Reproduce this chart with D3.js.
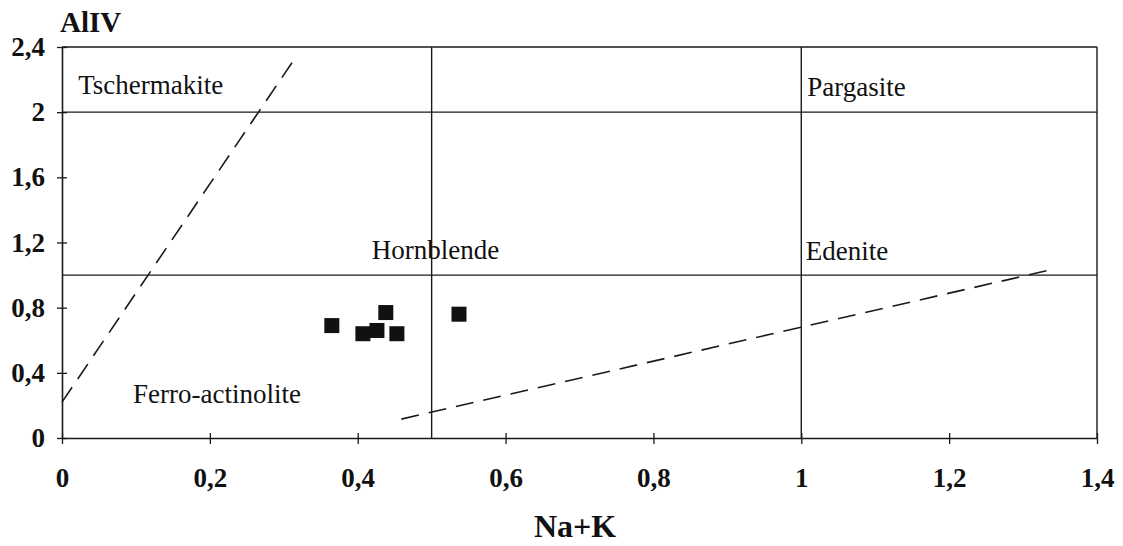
<!DOCTYPE html>
<html>
<head>
<meta charset="utf-8">
<script src="https://cdn.jsdelivr.net/npm/d3@7/dist/d3.min.js"></script>
<style>
  html, body { margin: 0; padding: 0; background: #fff; }
  svg { display: block; }
</style>
</head>
<body>
<svg id="chart" width="1123" height="546"></svg>
<script>
// Amphibole analyses: Na+K (A-site) versus tetrahedral Al (AlIV)
const naK  = [0.365, 0.407, 0.426, 0.438, 0.453, 0.537];
const alIV = [0.69,  0.64,  0.66,  0.77,  0.64,  0.76];

// Axis ticks
const xTicks = [0, 0.2, 0.4, 0.6, 0.8, 1, 1.2, 1.4];
const yTicks = [0, 0.4, 0.8, 1.2, 1.6, 2, 2.4];

// Classification field boundaries
const hBounds = [1, 2, 2.4];
const vBounds = [0.5, 1, 1.4];

// Dashed reference lines, as [Na+K, AlIV] end points
const dashA = [[0, 0.22], [0.315, 2.33]];
const dashB = [[0.459, 0.116], [1.34, 1.035]];

// Field names and their anchor points [Na+K, AlIV]
const fieldNames  = ["Tschermakite", "Pargasite", "Hornblende", "Edenite", "Ferro-actinolite"];
const fieldAnchor = [[0.022, 2.11], [1.008, 2.10], [0.419, 1.10], [1.006, 1.09], [0.096, 0.215]];

const FONT = "Liberation Serif";
const svg = d3.select("#chart").style("font-family", FONT);
const x = d3.scaleLinear().domain([0, 1.4]).range([62, 1097]);
const y = d3.scaleLinear().domain([0, 2.4]).range([438, 47]);
const ink = "#1a1a1a";
const fmt = d => String(d).replace(".", ",");

// Field boundaries
svg.append("g").selectAll("line").data(hBounds).join("line")
  .attr("x1", x(0)).attr("x2", x(1.4))
  .attr("y1", d => y(d)).attr("y2", d => y(d))
  .attr("stroke", ink).attr("stroke-width", 1.4);
svg.append("g").selectAll("line").data(vBounds).join("line")
  .attr("x1", d => x(d)).attr("x2", d => x(d))
  .attr("y1", y(0)).attr("y2", y(2.4))
  .attr("stroke", ink).attr("stroke-width", 1.4);

// Axes
const xAxis = svg.append("g").attr("transform", `translate(0,${y(0)})`)
  .call(d3.axisBottom(x).tickValues(xTicks).tickFormat(fmt).tickSize(0).tickPadding(40));
const yAxis = svg.append("g").attr("transform", `translate(${x(0)},0)`)
  .call(d3.axisLeft(y).tickValues(yTicks).tickFormat(fmt).tickSize(0).tickPadding(17));
[xAxis, yAxis].forEach(g => {
  g.attr("font-family", null).attr("font-size", null);
  g.select(".domain").attr("stroke", ink).attr("stroke-width", 1.6);
  g.selectAll("text")
    .style("font-family", FONT).style("font-size", "27px").style("font-weight", "bold")
    .attr("fill", "#111");
});
xAxis.selectAll(".tick text").attr("dy", "0.32em");
// short ticks crossing each axis
xAxis.selectAll(".tick").append("line").attr("y1", -5).attr("y2", 6).attr("stroke", ink).attr("stroke-width", 1.3);
yAxis.selectAll(".tick").append("line").attr("x1", -5).attr("x2", 5).attr("stroke", ink).attr("stroke-width", 1.3);

// Dashed reference lines
const line = d3.line().x(d => x(d[0])).y(d => y(d[1]));
[dashA, dashB].forEach(seg => {
  svg.append("path").attr("d", line(seg))
    .attr("fill", "none").attr("stroke", ink).attr("stroke-width", 1.6)
    .attr("stroke-dasharray", "18 10");
});

// Field names
svg.append("g").selectAll("text").data(fieldNames).join("text")
  .attr("x", (d, i) => x(fieldAnchor[i][0]))
  .attr("y", (d, i) => y(fieldAnchor[i][1]))
  .style("font-family", FONT).style("font-size", "27px")
  .attr("fill", "#111")
  .text(d => d);

// Analyses
const sq = 15;
svg.append("g").selectAll("rect").data(naK).join("rect")
  .attr("x", (d, i) => x(d) - sq / 2)
  .attr("y", (d, i) => y(alIV[i]) - sq / 2)
  .attr("width", sq).attr("height", sq)
  .attr("fill", "#111");

// Axis titles
svg.append("text").attr("x", 60).attr("y", 32)
  .style("font-family", FONT).style("font-size", "29px").style("font-weight", "bold")
  .attr("fill", "#111")
  .text("AlIV");
svg.append("text").attr("x", 575).attr("y", 537).attr("text-anchor", "middle")
  .style("font-family", FONT).style("font-size", "32px").style("font-weight", "bold")
  .attr("fill", "#111")
  .text("Na+K");
</script>
</body>
</html>
